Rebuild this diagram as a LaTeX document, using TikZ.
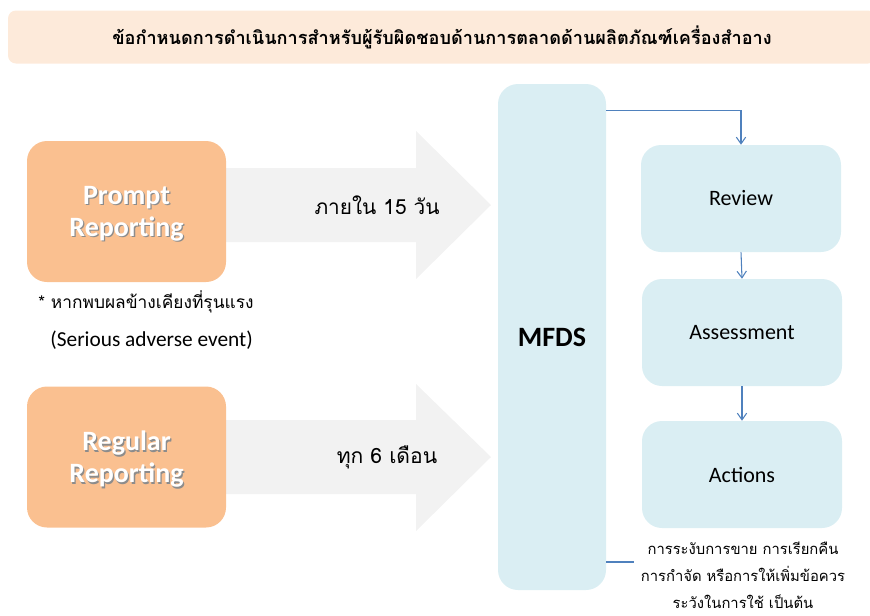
\documentclass[tikz,border=0pt]{standalone}
\usepackage{fontspec}
\setmainfont{Carlito}
\newfontfamily\thaifont[Script=Thai]{Loma}
\usetikzlibrary{arrows.meta}

\definecolor{headbg}{HTML}{FDEADA}
\definecolor{reportfill}{HTML}{FAC090}
\definecolor{stagefill}{HTML}{DAEEF3}
\definecolor{arrowgray}{HTML}{F2F2F2}
\definecolor{flowblue}{HTML}{4F81BD}

% white label with a soft grey drop shadow
\newcommand\shadowtxt[1]{\makebox[0pt][l]{\hspace{1pt}\raisebox{-1pt}{\textcolor{black!45}{#1}}}#1}

\tikzset{
  reportbox/.style={fill=reportfill, rounded corners=15pt, minimum width=149.25pt,
    minimum height=105.75pt, align=center, text=white, text depth=0pt,
    font=\bfseries\fontsize{21}{24}\selectfont},
  stagebox/.style={fill=stagefill, rounded corners=15pt, minimum width=150pt,
    minimum height=80.25pt, font=\fontsize{16.5}{20}\selectfont},
  timearrow/.style={fill=arrowgray, draw=none},
  flow/.style={draw=flowblue, line width=0.8pt, -{Straight Barb[length=5pt,width=7pt]}},
  plainflow/.style={draw=flowblue, line width=0.8pt},
}

\begin{document}
\begin{tikzpicture}[x=0.75pt, y=-0.75pt]
\useasboundingbox (0,0) rectangle (870,615);

% header
\node[fill=headbg, rounded corners=6pt, minimum width=651pt, minimum height=39.75pt,
  font=\thaifont\bfseries\fontsize{13.6}{16}\selectfont] (title) at (442,37)
  {ข้อกำหนดการดำเนินการสำหรับผู้รับผิดชอบด้านการตลาดด้านผลิตภัณฑ์เครื่องสำอาง};

% big grey arrows
\fill[timearrow] (226,168) -- (416,168) -- (416,131) -- (491,205) -- (416,279) -- (416,242) -- (226,242) -- cycle;
\fill[timearrow] (226,420) -- (416,420) -- (416,384) -- (491,457) -- (416,531) -- (416,494) -- (226,494) -- cycle;

% reporting boxes
\node[reportbox] (prompt) at (126.5,211.5) {\shadowtxt{Prompt}\\\shadowtxt{Reporting}};
\node[reportbox] (regular) at (126.5,457) {\shadowtxt{Regular}\\\shadowtxt{Reporting}};

\node[font=\thaifont\fontsize{15.6}{18}\selectfont] (promptlbl) at (377,205) {ภายใน 15 วัน};
\node[font=\thaifont\fontsize{15.8}{18}\selectfont] (regularlbl) at (387,457) {ทุก 6 เดือน};

\node[align=left, font=\fontsize{16}{28}\selectfont] (serious) at (146,320)
  {{\thaifont\fontsize{13}{28}\selectfont * หากพบผลข้างเคียงที่รุนแรง}\\\hspace{9pt}(Serious adverse event)};

% MFDS
\node[fill=stagefill, rounded corners=15pt, minimum width=81pt, minimum height=379.5pt,
  font=\bfseries\fontsize{21}{24}\selectfont] (mfds) at (552,337) {MFDS};

% stages
\node[stagebox] (review) at (741,198.5) {Review};
\node[stagebox] (assess) at (742,332.5) {Assessment};
\node[stagebox] (actions) at (742,474.5) {Actions};

\node[align=center, inner sep=0pt, font=\thaifont\fontsize{11.1}{20.25}\selectfont] (actnote) at (743,575)
  {การระงับการขาย การเรียกคืน\\การกำจัด หรือการให้เพิ่มข้อควร\\ระวังในการใช้ เป็นต้น};
\coordinate (noteend) at (634,562);

% flow
\draw[flow] (mfds.north east) ++(0,27) -| (review.north);
\draw[flow] (review.south) -- (assess.north);
\draw[flow] (assess.south) -- (actions.north);
\draw[plainflow] (mfds.east |- noteend) -- (noteend);
\end{tikzpicture}
\end{document}
